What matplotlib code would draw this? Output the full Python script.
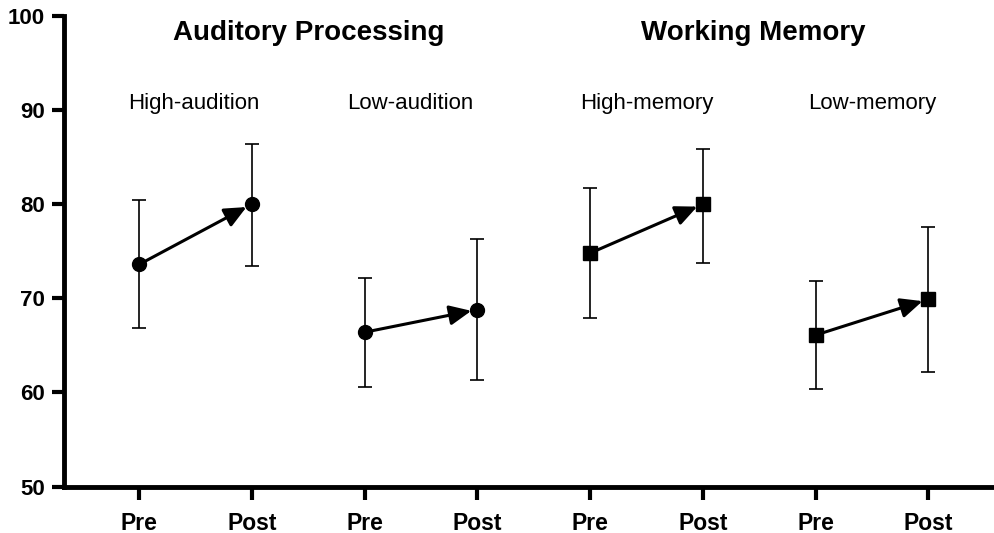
import matplotlib.pyplot as plt

plt.rcParams['font.family'] = ['Liberation Sans', 'DejaVu Sans']

# group means and error bar limits (pre, post)
groups = ['High-audition', 'Low-audition', 'High-memory', 'Low-memory']
pre_mean = [73.6, 66.4, 74.8, 66.1]
post_mean = [80.0, 68.8, 80.0, 69.9]
pre_hi = [80.4, 72.2, 81.7, 71.8]
pre_lo = [66.8, 60.6, 67.9, 60.4]
post_hi = [86.4, 76.3, 85.9, 77.6]
post_lo = [73.4, 61.3, 73.8, 62.2]
markers = ['o', 'o', 's', 's']
tick_labels = ['Pre', 'Post'] * 4
domains = ['Auditory Processing', 'Working Memory']

# small nudges for the group captions
label_shift = [-0.02, -0.1, 0.0, 0.0]

fig = plt.figure(figsize=(9.95, 5.33), dpi=100)
ax = fig.add_axes([0.0646, 0.0869, 0.9354, 0.8836])

for i, g in enumerate(groups):
    xs = [2 * i + 1, 2 * i + 2]
    ys = [pre_mean[i], post_mean[i]]
    lo = [pre_mean[i] - pre_lo[i], post_mean[i] - post_lo[i]]
    hi = [pre_hi[i] - pre_mean[i], post_hi[i] - post_mean[i]]
    ax.errorbar(xs, ys, yerr=[lo, hi], fmt='none', ecolor='black',
                elinewidth=1.2, capsize=4.7, capthick=1.2, zorder=2)
    ax.annotate('', xy=(xs[1], ys[1]), xytext=(xs[0], ys[0]),
                arrowprops=dict(arrowstyle='-|>,head_length=0.55,head_width=0.25',
                                color='black', lw=2.2, shrinkA=0, shrinkB=4.5,
                                mutation_scale=24),
                zorder=3)
    ax.plot(xs, ys, linestyle='none', marker=markers[i], markersize=10,
            color='black', zorder=4)
    ax.text(xs[0] + 0.5 + label_shift[i], 90.7, g, ha='center', va='center',
            fontsize=16)

ax.text(2.5, 98.2, domains[0], ha='center', va='center', fontsize=20, fontweight='bold')
ax.text(6.45, 98.2, domains[1], ha='center', va='center', fontsize=20, fontweight='bold')

ax.set_xlim(0.335, 8.59)
ax.set_ylim(50, 100)
ax.set_yticks(range(50, 101, 10))
ax.set_xticks(range(1, 9))
ax.set_xticklabels(tick_labels)

for s in ['top', 'right']:
    ax.spines[s].set_visible(False)
for s in ['left', 'bottom']:
    ax.spines[s].set_linewidth(3.5)
    ax.spines[s].set_capstyle('projecting')

ax.tick_params(axis='both', width=3, length=9, pad=5)
ax.tick_params(axis='x', labelsize=16.5, pad=9)
ax.tick_params(axis='y', labelsize=16)
for lab in ax.get_xticklabels() + ax.get_yticklabels():
    lab.set_fontweight('bold')

fig.savefig('out.png', dpi=100)
